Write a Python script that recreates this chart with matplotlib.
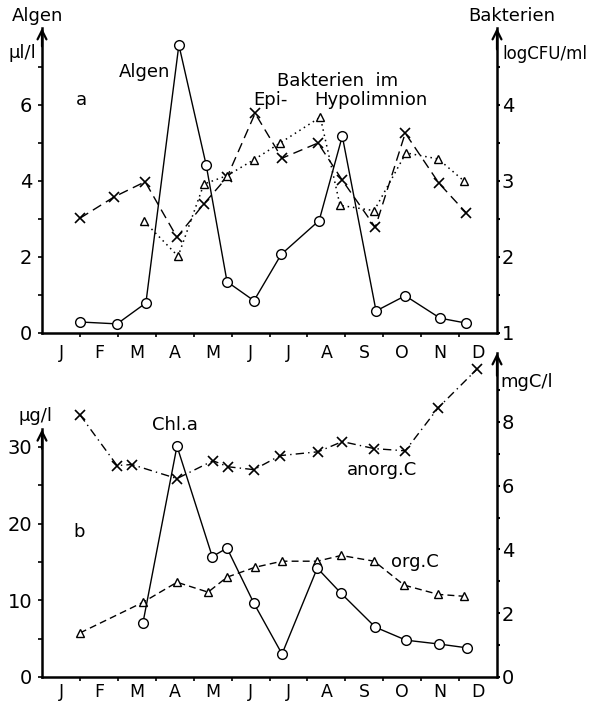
import numpy as np
import matplotlib as mpl
mpl.use('Agg')
import matplotlib.pyplot as plt

mpl.rcParams['font.family'] = 'DejaVu Sans'

months = ['J', 'F', 'M', 'A', 'M', 'J', 'J', 'A', 'S', 'O', 'N', 'D']

# panel a: Algen (left, ul/l) and Bakterien (right, logCFU/ml); x in months
alg_x = [1.00, 1.98, 2.74, 3.61, 4.33, 4.88, 5.59, 6.31, 7.31, 7.92, 8.81, 9.58, 10.50, 11.19]
alg_v = [0.29, 0.24, 0.79, 7.58, 4.42, 1.35, 0.85, 2.07, 2.96, 5.18, 0.58, 0.98, 0.39, 0.26]

epi_x = [1.00, 1.90, 2.72, 3.56, 4.27, 4.88, 5.62, 6.33, 7.28, 7.92, 8.79, 9.58, 10.47, 11.19]
epi_v = [2.51, 2.79, 2.99, 2.26, 2.70, 3.05, 3.89, 3.30, 3.50, 3.01, 2.39, 3.63, 2.97, 2.58]

hyp_x = [2.69, 3.59, 4.27, 4.88, 5.59, 6.28, 7.34, 7.86, 8.76, 9.60, 10.45, 11.13]
hyp_v = [2.47, 2.01, 2.96, 3.07, 3.28, 3.50, 3.84, 2.68, 2.61, 3.37, 3.29, 3.00]

# panel b: Chl.a (left, ug/l), org.C and anorg.C (right, mgC/l)
chl_x = [2.66, 3.56, 4.49, 4.88, 5.59, 6.33, 7.26, 7.89, 8.79, 9.60, 10.47, 11.21]
chl_v = [7.0, 30.1, 15.7, 16.8, 9.6, 3.0, 14.2, 10.9, 6.5, 4.8, 4.3, 3.8]

orgc_x = [1.00, 2.66, 3.56, 4.38, 4.88, 5.62, 6.33, 7.26, 7.89, 8.76, 9.55, 10.45, 11.13]
orgc_v = [1.38, 2.34, 2.97, 2.66, 3.13, 3.44, 3.63, 3.63, 3.81, 3.63, 2.88, 2.59, 2.53]

anorg_x = [1.00, 1.98, 2.37, 3.56, 4.51, 4.91, 5.59, 6.28, 7.28, 7.92, 8.76, 9.58, 10.45, 11.48]
anorg_v = [8.22, 6.63, 6.66, 6.22, 6.78, 6.59, 6.50, 6.94, 7.06, 7.38, 7.16, 7.09, 8.44, 9.66]

W, H = 589, 704
fig = plt.figure(figsize=(W/100, H/100), dpi=100)

def box(l, t, r, b):
    return [l/W, 1-b/H, (r-l)/W, (b-t)/H]

def ftext(x, y, s, size=13, **kw):
    fig.text(x/W, 1-y/H, s, ha='center', va='center', fontsize=size, **kw)

circ = dict(marker='o', mfc='white', mec='black', ms=7, mew=1.0)
tri = dict(marker='^', mfc='white', mec='black', ms=5.5, mew=1.0)
cross = dict(marker='x', mec='black', ms=7.5, mew=1.2)

def style(ax, axr, lmaj, lmin, rmaj, rmin, lbound, xpad):
    ax.set_xlim(0, 12)
    axr.set_xlim(0, 12)
    ax.set_xticks(np.arange(12) + 0.5)
    ax.set_xticklabels(months, fontsize=12.5)
    ax.set_xticks(np.arange(1, 12), minor=True)
    ax.tick_params(axis='x', which='major', length=0, pad=xpad)
    ax.tick_params(axis='x', which='minor', length=3, width=1.2, direction='out')
    ax.set_yticks(lmaj)
    ax.set_yticks(lmin, minor=True)
    ax.tick_params(axis='y', which='both', length=3, width=1.2, labelsize=14, pad=4)
    axr.set_yticks(rmaj)
    axr.set_yticks(rmin, minor=True)
    axr.tick_params(axis='y', which='both', length=2.5, width=1.5, labelsize=14, pad=1)
    for s in ['top', 'right']:
        ax.spines[s].set_visible(False)
    for s in ['top', 'left', 'bottom']:
        axr.spines[s].set_visible(False)
    ax.spines['left'].set_linewidth(1.8)
    ax.spines['bottom'].set_linewidth(1.8)
    axr.spines['right'].set_linewidth(1.8)
    ax.spines['left'].set_bounds(0, lbound)
    ax.patch.set_visible(False)
    arr = dict(arrowstyle='->', lw=1.6, color='black', shrinkA=0, shrinkB=0, mutation_scale=16)
    ax.annotate('', xy=(0, lbound), xytext=(0, lbound - 0.06*ax.get_ylim()[1]),
                xycoords=('axes fraction', 'data'), arrowprops=arr)
    axr.annotate('', xy=(1, 1), xytext=(1, 0.93), xycoords='axes fraction', arrowprops=arr)

# ---- panel a
ax1 = fig.add_axes(box(42, 28, 497, 333))
ax1r = ax1.twinx()
ax1.set_ylim(0, (333-28)/38.0)
ax1r.set_ylim(1, 1 + (333-28)/76.0)
ax1r.plot(epi_x, epi_v, color='black', lw=1.0, dashes=(7, 4), **cross)
ax1r.plot(hyp_x, hyp_v, color='black', lw=1.1, dashes=(1, 2.5), **tri)
ax1.plot(alg_x, alg_v, color='black', lw=1.0, zorder=5, **circ)
ax1.set_zorder(ax1r.get_zorder() + 1)
style(ax1, ax1r, [0, 2, 4, 6], [1, 3, 5, 7], [1, 2, 3, 4], [1.5, 2.5, 3.5, 4.5], (333-28)/38.0, 8)

# ---- panel b
ax2 = fig.add_axes(box(42, 353, 497, 677))
ax2r = ax2.twinx()
ax2.set_ylim(0, (677-353)/7.67)
ax2r.set_ylim(0, (677-353)/31.9)
ax2r.plot(orgc_x, orgc_v, color='black', lw=1.0, dashes=(5, 3), **tri)
ax2r.plot(anorg_x, anorg_v, color='black', lw=1.0, dashes=(6, 3, 1, 3), **cross)
ax2.plot(chl_x, chl_v, color='black', lw=1.0, **circ)
ax2.set_zorder(ax2r.get_zorder() + 1)
style(ax2, ax2r, [0, 10, 20, 30], [5, 15, 25], [0, 2, 4, 6, 8], [1, 3, 5, 7, 9], 32.3, 4)

# labels
ftext(38, 16, 'Algen')
ftext(22, 53, 'µl/l')
ftext(81, 100, 'a')
ftext(145, 72, 'Algen')
ftext(338, 81, 'Bakterien  im')
ftext(270, 100, 'Epi-')
ftext(371, 100, 'Hypolimnion')
ftext(512, 16, 'Bakterien')
ftext(545, 54, 'logCFU/ml', size=12)

ftext(36, 416, 'µg/l')
ftext(175, 425, 'Chl.a')
ftext(79, 532, 'b')
ftext(382, 470, 'anorg.C')
ftext(415, 562, 'org.C')
ftext(527, 382, 'mgC/l')

fig.savefig('out.png', dpi=100)
